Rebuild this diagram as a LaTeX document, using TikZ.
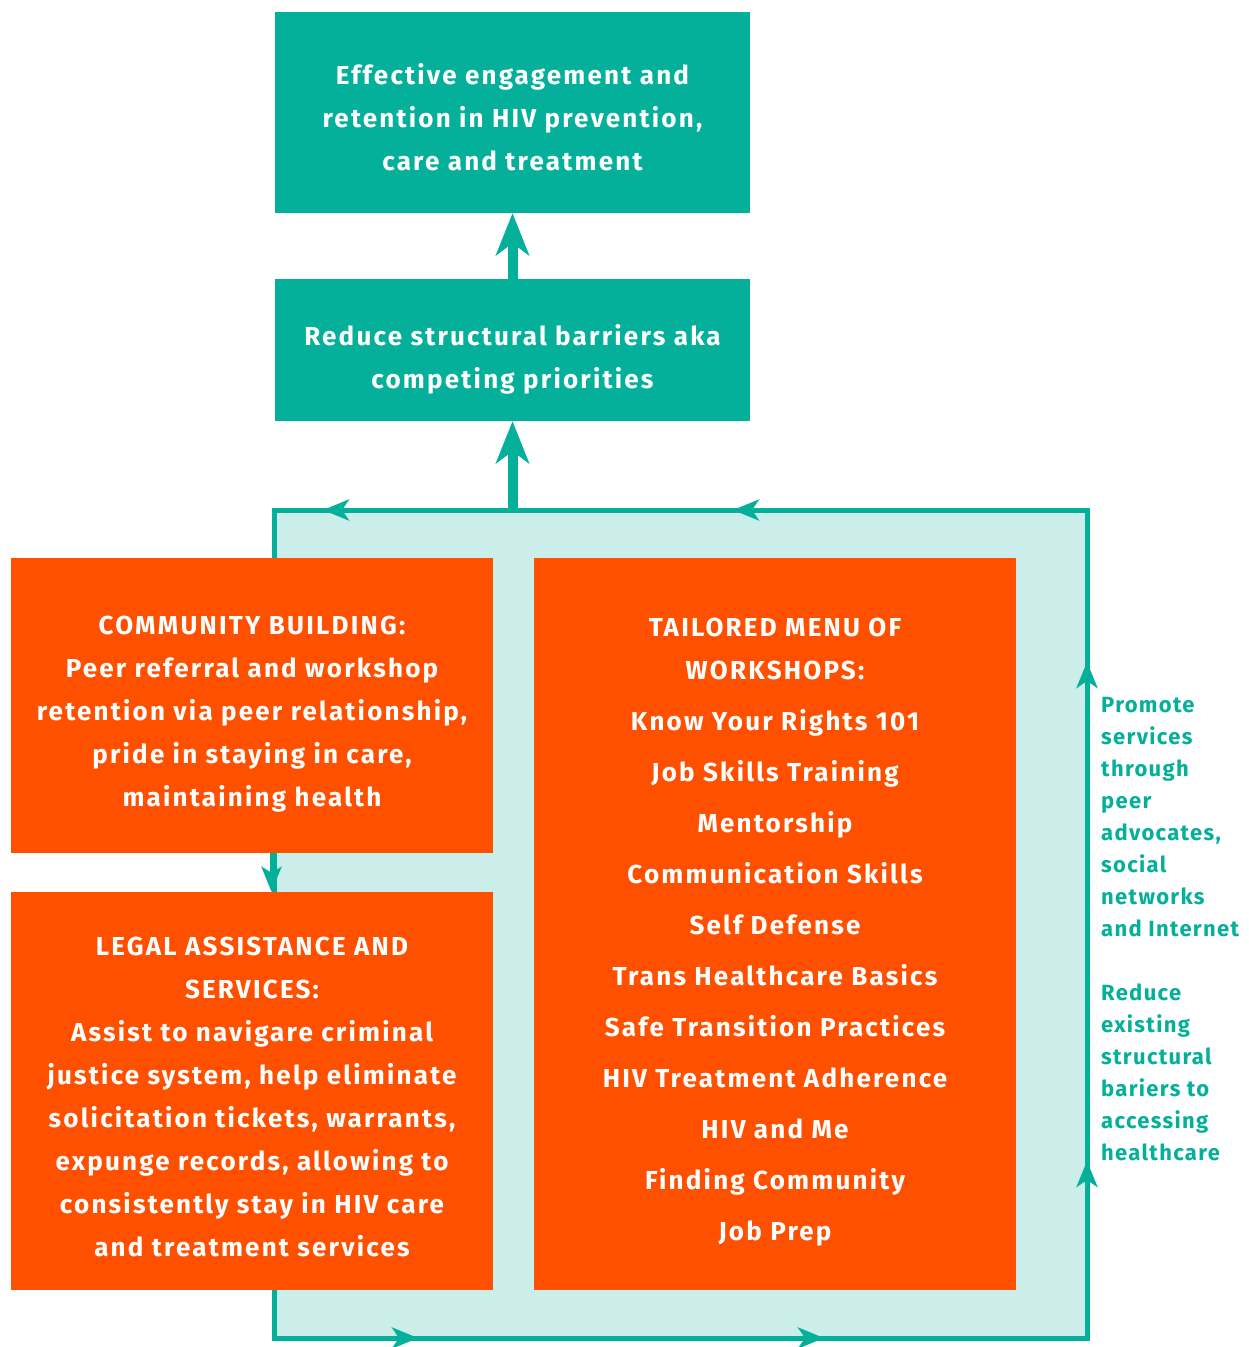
\documentclass[tikz,border=0pt]{standalone}
\usepackage{fontspec}
\setmainfont{Fira Sans}
\usetikzlibrary{arrows.meta,calc}
\definecolor{tealA}{HTML}{04B09A}
\definecolor{tealBg}{HTML}{CCEEEA}
\definecolor{orangeA}{HTML}{FF5000}
\tikzset{
  tealbox/.style={fill=tealA, inner sep=0pt},
  orangebox/.style={fill=orangeA, inner sep=0pt},
  boxtext/.style={text=white, align=center, inner sep=0pt,
    font=\fontsize{26}{43}\selectfont\bfseries\addfontfeatures{LetterSpace=8.5}},
  bigarrow/.style={draw=tealA, line width=10pt, -{Stealth[length=42pt, width=33pt, inset=12pt]}},
  smallarrow/.style={draw=tealA, line width=4pt, -{Stealth[length=25pt, width=20pt, inset=6pt]}},
  edgearrow/.style={draw=tealA, line width=5pt, -{Stealth[length=26pt, width=21pt, inset=7pt]}},
  sidetext/.style={text=tealA, align=left, anchor=north west, inner sep=0pt,
    font=\fontsize{22}{32}\selectfont\bfseries\addfontfeatures{LetterSpace=6}},
}
\begin{document}
\begin{tikzpicture}[x=1pt,y=-1pt]
\useasboundingbox (0,0) rectangle (1248,1347);
% frame
\node[draw=tealA, fill=tealBg, line width=5pt, minimum width=813pt, minimum height=828pt, inner sep=0pt] (frame) at (680.5,924) {};
% boxes
\node[tealbox, minimum width=475pt, minimum height=201pt] (goal) at (512.5,112.5) {};
\node[boxtext] (goaltext) at ($(goal.center)+(0,5)$)
  {Effective engagement and\\retention in HIV prevention,\\care and treatment};
\node[tealbox, minimum width=475pt, minimum height=142pt] (reduce) at (512.5,350) {};
\node[boxtext] (reducetext) at ($(reduce.center)+(0,9)$)
  {Reduce structural barriers aka\\competing priorities};
\node[orangebox, minimum width=482pt, minimum height=295pt] (community) at (252,705.5) {};
\node[boxtext] (communitytext) at ($(community.center)+(0,9)$)
  {COMMUNITY BUILDING:\\Peer referral and workshop\\retention via peer relationship,\\pride in staying in care,\\maintaining health};
\node[orangebox, minimum width=482pt, minimum height=398pt] (legal) at (252,1091) {};
\node[boxtext] (legaltext) at ($(legal.center)+(0,6)$)
  {LEGAL ASSISTANCE AND\\SERVICES:\\Assist to navigare criminal\\justice system, help eliminate\\solicitation tickets, warrants,\\expunge records, allowing to\\consistently stay in HIV care\\and treatment services};
\node[orangebox, minimum width=482pt, minimum height=732pt] (menu) at (775,924) {};
\node[boxtext] (menutext) at ($(menu.center)+(0,8)$)
  {TAILORED MENU OF\\WORKSHOPS:\\[8pt]Know Your Rights 101\\[8pt]Job Skills Training\\[8pt]Mentorship\\[8pt]Communication Skills\\[8pt]Self Defense\\[8pt]Trans Healthcare Basics\\[8pt]Safe Transition Practices\\[8pt]HIV Treatment Adherence\\[8pt]HIV and Me\\[8pt]Finding Community\\[8pt]Job Prep};
\node[sidetext] (side) at (1101,697)
  {Promote\\services\\through\\peer\\advocates,\\social\\networks\\and Internet\\[32pt]Reduce\\existing\\structural\\bariers to\\accessing\\healthcare};
% connectors
\draw[bigarrow] (reduce.north) -- (goal.south);
\draw[bigarrow] (reduce.south |- frame.north) -- (reduce.south);
\draw[smallarrow] (community.south -| frame.west) -- (legal.north -| frame.west);
% arrows on the frame edges
\coordinate (t1) at (323,510);
\coordinate (t2) at (733,510);
\coordinate (b1) at (418,1338);
\coordinate (b2) at (824,1338);
\coordinate (r1) at (1087,662);
\coordinate (r2) at (1087,1161);
\draw[edgearrow] ($(t1)+(30,0)$) -- (t1);
\draw[edgearrow] ($(t2)+(30,0)$) -- (t2);
\draw[edgearrow] ($(b1)-(30,0)$) -- (b1);
\draw[edgearrow] ($(b2)-(30,0)$) -- (b2);
\draw[edgearrow] ($(r1)+(0,30)$) -- (r1);
\draw[edgearrow] ($(r2)+(0,30)$) -- (r2);
\end{tikzpicture}
\end{document}
